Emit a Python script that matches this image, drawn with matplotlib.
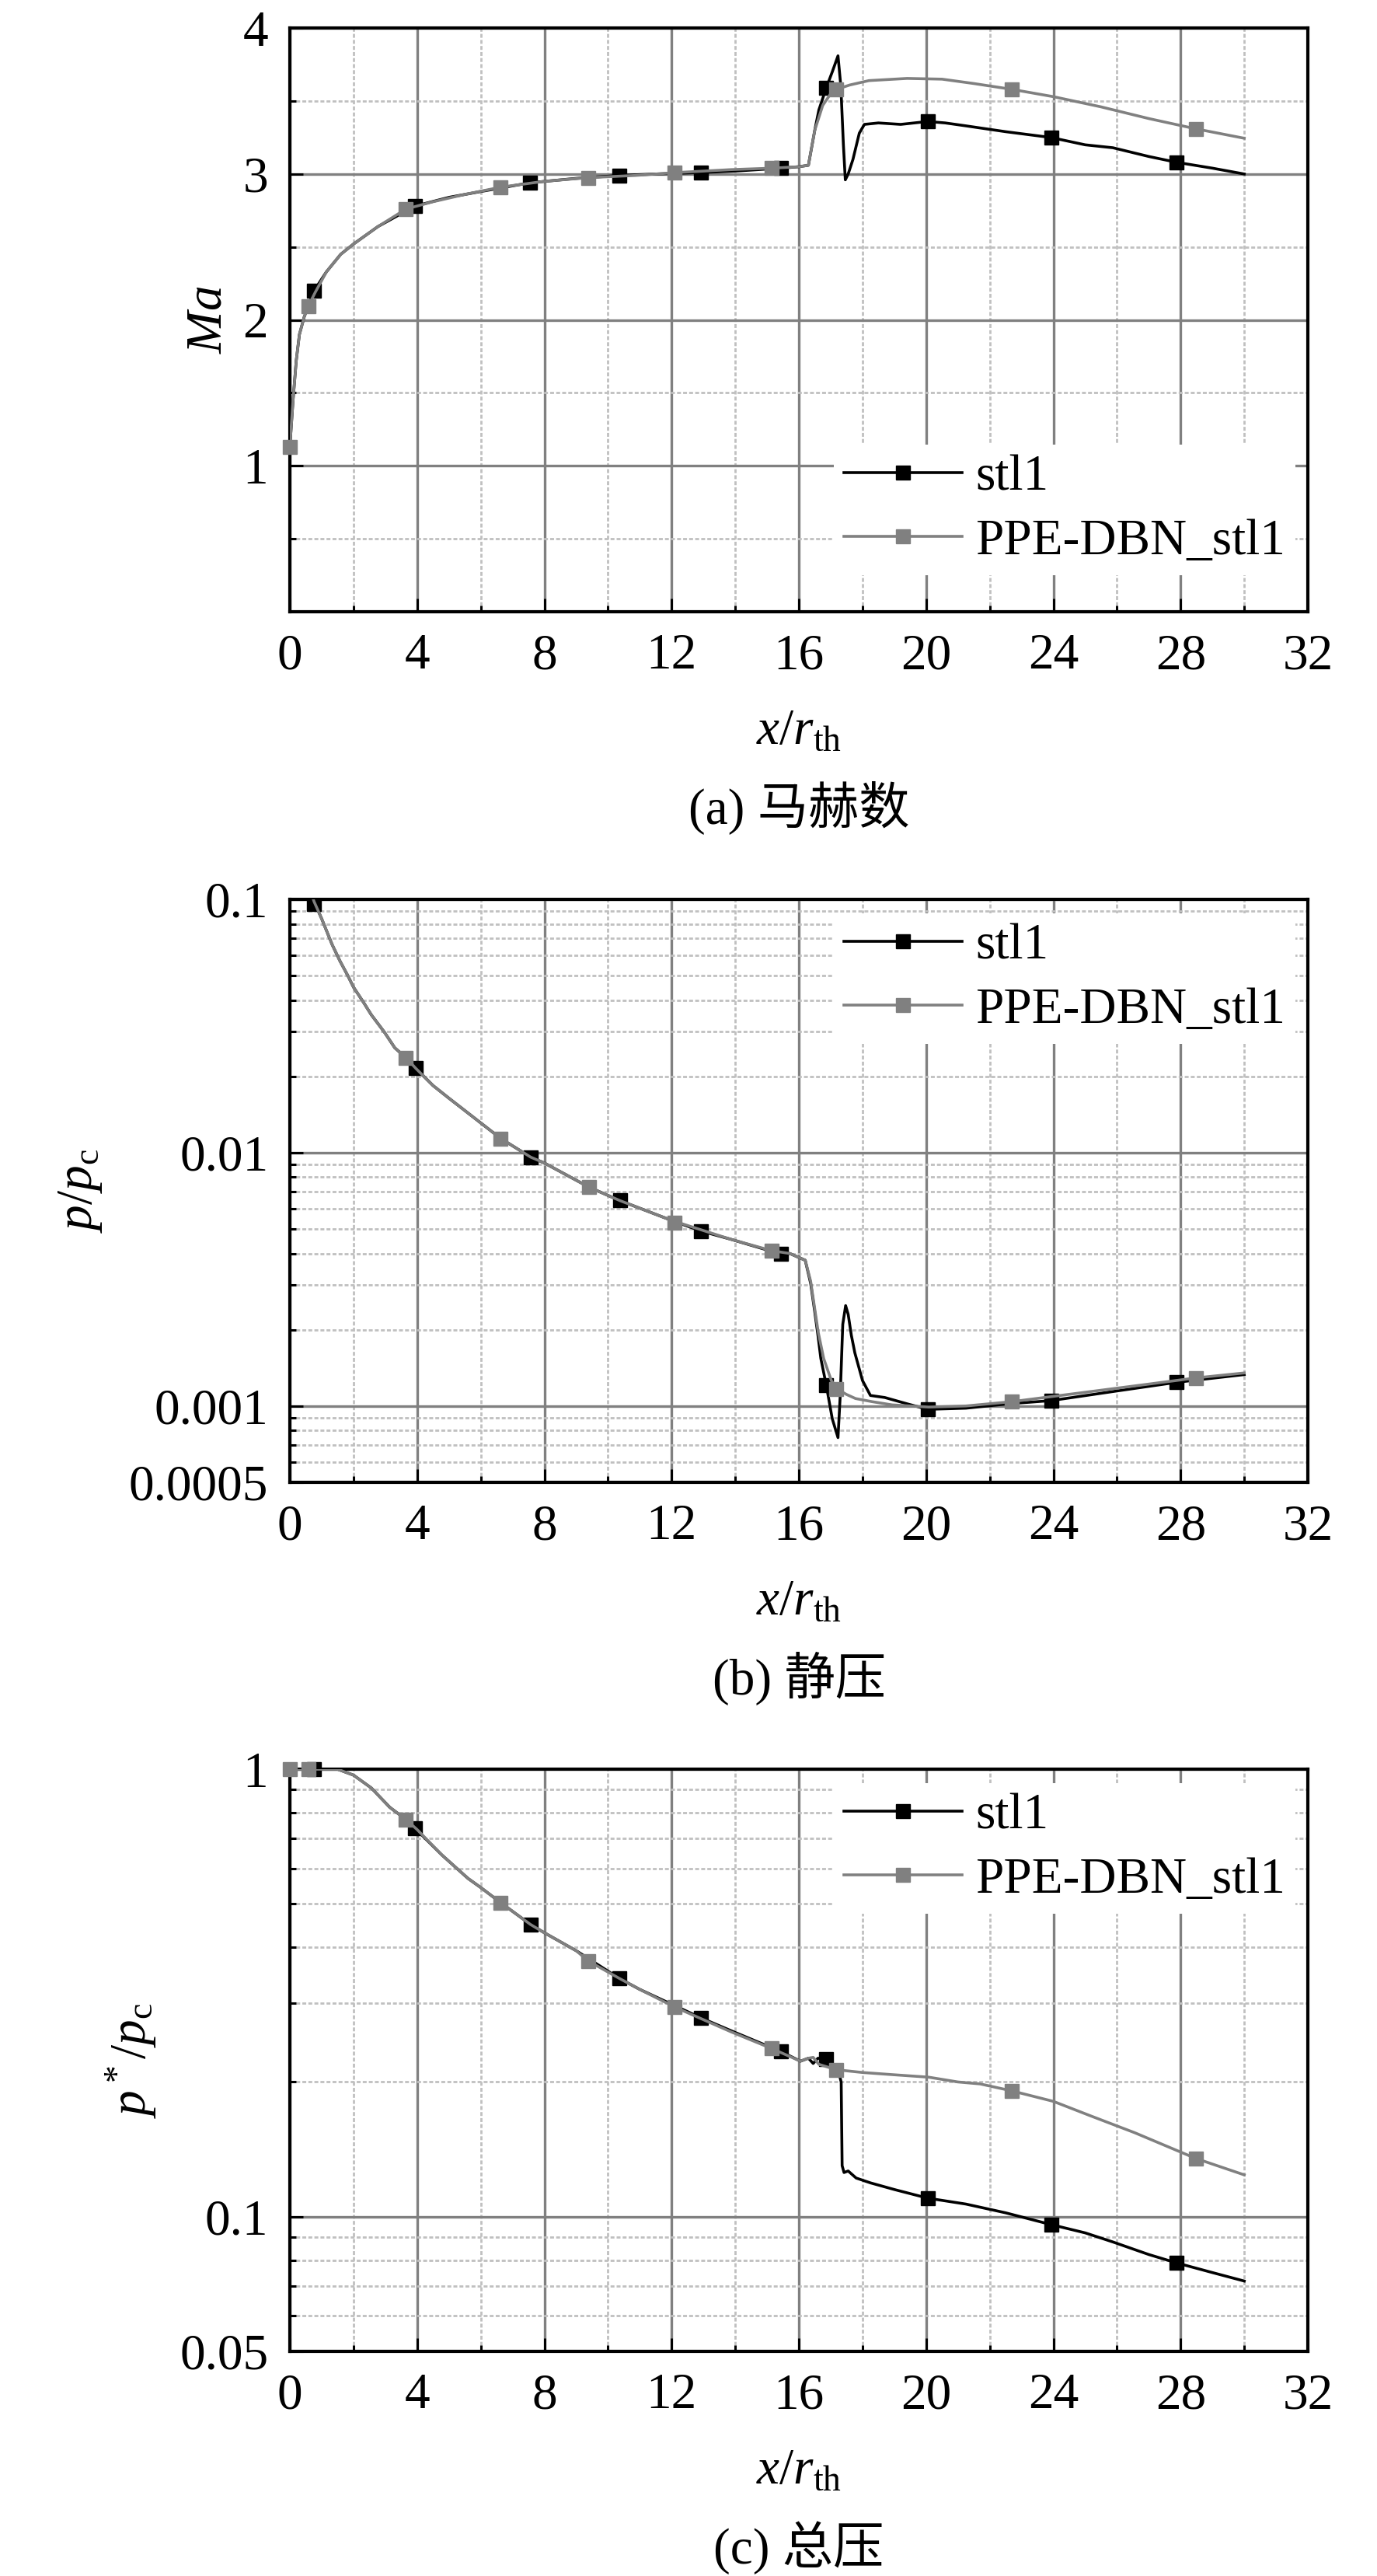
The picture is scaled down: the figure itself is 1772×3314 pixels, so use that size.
import matplotlib
matplotlib.use("Agg")
import matplotlib.pyplot as plt
from matplotlib.lines import Line2D
from matplotlib.ticker import FixedLocator, FixedFormatter, NullFormatter

plt.rcParams['font.family'] = ['Liberation Serif', 'Noto Sans CJK SC']
plt.rcParams['mathtext.fontset'] = 'custom'
plt.rcParams['mathtext.rm'] = 'Liberation Serif'
plt.rcParams['mathtext.it'] = 'Liberation Serif:italic'

FS = 47
BLACK = '#000000'
GRAY = '#808080'
labels = ['stl1', 'PPE-DBN_stl1']

# ---- (a) Mach number ----
ma_ppe_x = [0, 0.1, 0.2, 0.3, 0.45, 0.58, 0.8, 1.15, 1.6, 2.0, 2.77, 3.65, 4.5, 5.5, 6.63,
            8.0, 9.38, 10.85, 12.15, 13.86, 15.15, 16.0, 16.3, 16.5, 16.75, 17.0, 17.18,
            17.6, 18.2, 19.4, 20.5, 21.5, 22.7, 24.0, 25.5, 27.0, 28.47, 30.0]
ma_ppe_y = [1.13, 1.45, 1.72, 1.9, 2.02, 2.095, 2.19, 2.33, 2.45, 2.52, 2.64, 2.76, 2.81, 2.86, 2.91,
            2.95, 2.975, 2.99, 3.01, 3.03, 3.04, 3.05, 3.06, 3.3, 3.47, 3.55, 3.58,
            3.61, 3.64, 3.655, 3.65, 3.62, 3.58, 3.53, 3.46, 3.38, 3.31, 3.245]
ma_stl_x = [0, 0.1, 0.2, 0.3, 0.45, 0.76, 1.15, 1.6, 2.0, 2.77, 3.93, 5.0, 6.0, 7.55, 9.0, 10.35,
            11.5, 12.93, 14.0, 15.43, 16.0, 16.3, 16.5, 16.63, 16.86, 17.05, 17.23, 17.32, 17.4,
            17.46, 17.55, 17.7, 17.9, 18.06, 18.5, 19.2, 20.05, 20.6, 21.25, 22.5, 23.93, 25.0,
            25.87, 27.0, 27.88, 29.0, 30.0]
ma_stl_y = [1.13, 1.45, 1.72, 1.9, 2.02, 2.2, 2.33, 2.45, 2.52, 2.64, 2.78, 2.84, 2.88, 2.94, 2.97, 2.99,
            3.0, 3.01, 3.02, 3.04, 3.05, 3.06, 3.3, 3.44, 3.59, 3.7, 3.81, 3.6, 3.2,
            2.96, 3.0, 3.1, 3.28, 3.34, 3.35, 3.34, 3.36, 3.35, 3.33, 3.29, 3.25, 3.2,
            3.18, 3.12, 3.08, 3.04, 3.0]
ma_stl_mx = [0.76, 3.93, 7.55, 10.35, 12.93, 15.43, 16.86, 20.05, 23.93, 27.88]
ma_stl_my = [2.2, 2.78, 2.94, 2.99, 3.01, 3.04, 3.59, 3.36, 3.25, 3.08]
ma_ppe_mx = [0, 0.58, 3.65, 6.63, 9.38, 12.1, 15.15, 17.18, 22.7, 28.47]
ma_ppe_my = [1.13, 2.095, 2.76, 2.91, 2.975, 3.01, 3.04, 3.58, 3.58, 3.31]

# ---- (b) static pressure ----
p_ppe_x = [0, 0.3, 0.58, 0.76, 1.0, 1.33, 1.58, 1.82, 2.0, 2.32, 2.56, 2.97, 3.3, 3.65, 3.96,
           4.5, 5.0, 6.0, 6.63, 7.57, 8.0, 9.41, 10.37, 12.0, 13.86, 15.15, 15.71, 16.2,
           16.37, 16.49, 16.61, 16.78, 17.02, 17.18, 17.5, 17.78, 18.3, 18.93, 20.08, 21.25,
           22.7, 24.7, 27.0, 28.47, 30.0]
p_ppe_y = [0.47, 0.17, 0.115, 0.098, 0.0838, 0.0662, 0.0569, 0.050, 0.045, 0.0391, 0.035,
           0.0299, 0.0259, 0.0237, 0.0215, 0.0184, 0.0164, 0.0131, 0.01137, 0.0096, 0.0091,
           0.0073, 0.00647, 0.0054, 0.00455, 0.0041, 0.004, 0.00376, 0.00311, 0.00246,
           0.00195, 0.00154, 0.00126, 0.00117, 0.00111, 0.00107, 0.00104, 0.00101, 0.00099,
           0.001, 0.00104, 0.00112, 0.00122, 0.00129, 0.00135]
p_stl_x = [0, 0.3, 0.58, 0.76, 1.0, 1.33, 1.58, 1.82, 2.0, 2.32, 2.56, 2.97, 3.3, 3.65, 3.96,
           4.5, 5.0, 6.0, 6.63, 7.57, 8.0, 9.41, 10.37, 12.0, 12.93, 13.86, 15.43, 15.71, 16.2,
           16.37, 16.49, 16.6, 16.69, 16.86, 17.05, 17.23, 17.3, 17.38, 17.47, 17.55, 17.65,
           17.76, 18.0, 18.25, 18.7, 19.4, 20.05, 21.25, 22.6, 23.93, 25.87, 27.88, 30.0]
p_stl_y = [0.47, 0.17, 0.115, 0.098, 0.0838, 0.0662, 0.0569, 0.050, 0.045, 0.0391, 0.035,
           0.0299, 0.0259, 0.0237, 0.0215, 0.0184, 0.0164, 0.0131, 0.01137, 0.0096, 0.0091,
           0.0073, 0.00647, 0.0054, 0.0049, 0.00455, 0.00398, 0.004, 0.00376, 0.00305,
           0.0024, 0.0019, 0.00154, 0.00121, 0.00089, 0.00075, 0.0011, 0.0021, 0.00249, 0.0023,
           0.0019, 0.00162, 0.00126, 0.0011, 0.00108, 0.00102, 0.00097, 0.00098, 0.00102,
           0.00105, 0.00114, 0.00124, 0.00133]
p_stl_mx = [0.76, 3.96, 7.57, 10.37, 12.93, 15.43, 16.86, 20.05, 23.93, 27.88]
p_stl_my = [0.096, 0.0215, 0.0096, 0.00647, 0.0049, 0.00398, 0.00121, 0.00097, 0.00105, 0.00124]
p_ppe_mx = [0, 0.58, 3.65, 6.63, 9.41, 12.1, 15.15, 17.18, 22.7, 28.47]
p_ppe_my = [0.47, 0.115, 0.0237, 0.01137, 0.0073, 0.0053, 0.0041, 0.00117, 0.00104, 0.00129]

# ---- (c) total pressure ----
pt_ppe_x = [0, 0.58, 1.5, 2.0, 2.56, 3.14, 3.65, 4.0, 4.78, 5.6, 6.0, 6.63, 7.56, 8.0, 9.0, 9.38,
            10.35, 11.0, 12.1, 13.86, 15.15, 16.05, 16.3, 16.45, 16.63, 17.18, 18.0, 18.93,
            20.08, 21.0, 21.7, 22.7, 24.0, 25.17, 26.56, 28.47, 30.0]
pt_ppe_y = [1.0, 1.0, 1.0, 0.970, 0.908, 0.822, 0.772, 0.733, 0.643, 0.570, 0.544, 0.503, 0.45,
            0.431, 0.393, 0.3727, 0.341, 0.322, 0.294, 0.259, 0.2375, 0.2226, 0.226, 0.227,
            0.219, 0.213, 0.21, 0.2077, 0.205, 0.2, 0.198, 0.191, 0.181, 0.168, 0.154, 0.135,
            0.124]
pt_stl_x = [0, 0.76, 1.5, 2.0, 2.56, 3.14, 3.65, 3.94, 4.78, 5.6, 6.0, 6.63, 7.56, 8.0, 9.0,
            10.35, 11.0, 12.93, 14.0, 15.43, 16.05, 16.3, 16.45, 16.6, 16.86, 17.1, 17.23,
            17.33, 17.36, 17.42, 17.55, 17.8, 18.25, 19.0, 20.05, 21.25, 22.5, 23.93, 25.0,
            25.87, 27.0, 27.88, 29.0, 30.0]
pt_stl_y = [1.0, 1.0, 1.0, 0.970, 0.908, 0.822, 0.772, 0.737, 0.643, 0.570, 0.544, 0.503, 0.45,
            0.431, 0.393, 0.341, 0.322, 0.278, 0.258, 0.234, 0.2226, 0.226, 0.22, 0.226, 0.225,
            0.218, 0.213, 0.2, 0.13, 0.1255, 0.1265, 0.122, 0.119, 0.115, 0.110, 0.1067, 0.102,
            0.096, 0.092, 0.0878, 0.0823, 0.0788, 0.075, 0.0718]
pt_stl_mx = [0.76, 3.94, 7.56, 10.35, 12.93, 15.43, 16.86, 20.05, 23.93, 27.88]
pt_stl_my = [1.0, 0.737, 0.45, 0.341, 0.278, 0.234, 0.225, 0.110, 0.096, 0.0788]
pt_ppe_mx = [0, 0.58, 3.65, 6.63, 9.38, 12.1, 15.15, 17.18, 22.7, 28.47]
pt_ppe_my = [1.0, 1.0, 0.772, 0.503, 0.3727, 0.294, 0.2375, 0.213, 0.191, 0.135]

x_major = [0, 4, 8, 12, 16, 20, 24, 28, 32]
x_minor = [2, 6, 10, 14, 18, 22, 26, 30]


def draw_panel(ax, stl, ppe, stl_m, ppe_m, clip=True):
    ax.plot(stl[0], stl[1], color=BLACK, lw=2.6, zorder=3)
    ax.plot(stl_m[0], stl_m[1], ls='none', marker='s', ms=12.5, color=BLACK, zorder=4,
            clip_on=clip)
    ax.plot(ppe[0], ppe[1], color=GRAY, lw=2.6, zorder=5)
    ax.plot(ppe_m[0], ppe_m[1], ls='none', marker='s', ms=12.5, color=GRAY, zorder=6,
            clip_on=clip)

    ax.set_xlim(0, 32)
    ax.xaxis.set_major_locator(FixedLocator(x_major))
    ax.xaxis.set_minor_locator(FixedLocator(x_minor))
    ax.set_axisbelow(True)
    ax.grid(which='major', color=GRAY, lw=2.4)
    ax.grid(which='minor', color='#c0c0c0', lw=2.0, linestyle=(0, (1.8, 1.0)))
    ax.tick_params(which='both', direction='in', top=False, right=False,
                   width=2.2, color='k', labelsize=FS, pad=20)
    ax.tick_params(which='major', length=12)
    ax.tick_params(which='minor', length=6)
    for sp in ax.spines.values():
        sp.set_linewidth(3)


def add_legend(ax, loc, anchor):
    handles = [Line2D([], [], color=BLACK, lw=2.6, marker='s', ms=12.5),
               Line2D([], [], color=GRAY, lw=2.6, marker='s', ms=12.5)]
    leg = ax.legend(handles, labels, loc=loc, bbox_to_anchor=anchor, borderaxespad=0,
                    fontsize=FS, handlelength=2.34, handletextpad=0.26, borderpad=0.2,
                    labelspacing=0.34, fancybox=False, framealpha=1, facecolor='white')
    leg.get_frame().set_linewidth(0)
    leg.set_zorder(10)


fig = plt.figure(figsize=(17.72, 33.14), dpi=100)
L, W = 0.2105, 0.7393
xc = L + W / 2

# (a)
ax1 = fig.add_axes([L, 0.7625, W, 0.2266])
draw_panel(ax1, (ma_stl_x, ma_stl_y), (ma_ppe_x, ma_ppe_y),
           (ma_stl_mx, ma_stl_my), (ma_ppe_mx, ma_ppe_my), clip=False)
ax1.set_ylim(0, 4)
ax1.yaxis.set_major_locator(FixedLocator([1, 2, 3, 4]))
ax1.yaxis.set_minor_locator(FixedLocator([0.5, 1.5, 2.5, 3.5]))
add_legend(ax1, 'lower right', (0.988, 0.063))
ax1.text(-0.0794, 0.5, '$Ma$', transform=ax1.transAxes, rotation=90,
         ha='center', va='center', fontsize=FS)
fig.text(xc, 0.7112, '$x/r_\\mathrm{th}$', ha='center', va='baseline', fontsize=FS)
fig.text(xc, 0.6801, '(a) 马赫数', ha='center', va='baseline', fontsize=FS)

# (b)
ax2 = fig.add_axes([L, 0.4246, W, 0.2263])
draw_panel(ax2, (p_stl_x, p_stl_y), (p_ppe_x, p_ppe_y),
           (p_stl_mx, p_stl_my), (p_ppe_mx, p_ppe_my))
ax2.set_yscale('log')
ax2.set_ylim(0.0005, 0.1)
p_ticks = [0.0005, 0.001, 0.01, 0.1]
p_minor = [0.0006, 0.0007, 0.0008, 0.0009, 0.002, 0.003, 0.004, 0.005, 0.006, 0.007,
           0.008, 0.009, 0.02, 0.03, 0.04, 0.05, 0.06, 0.07, 0.08, 0.09]
ax2.yaxis.set_major_locator(FixedLocator(p_ticks))
ax2.yaxis.set_major_formatter(FixedFormatter(['0.0005', '0.001', '0.01', '0.1']))
ax2.yaxis.set_minor_locator(FixedLocator(p_minor))
ax2.yaxis.set_minor_formatter(NullFormatter())
add_legend(ax2, 'upper right', (0.988, 0.976))
ax2.text(-0.206, 0.5, '$p/p_\\mathrm{c}$', transform=ax2.transAxes, rotation=90,
         ha='center', va='center', fontsize=FS)
fig.text(xc, 0.3733, '$x/r_\\mathrm{th}$', ha='center', va='baseline', fontsize=FS)
fig.text(xc, 0.3422, '(b) 静压', ha='center', va='baseline', fontsize=FS)

# (c)
ax3 = fig.add_axes([L, 0.0872, W, 0.226])
draw_panel(ax3, (pt_stl_x, pt_stl_y), (pt_ppe_x, pt_ppe_y),
           (pt_stl_mx, pt_stl_my), (pt_ppe_mx, pt_ppe_my), clip=False)
ax3.set_yscale('log')
ax3.set_ylim(0.05, 1)
pt_ticks = [0.05, 0.1, 1]
pt_minor = [0.06, 0.07, 0.08, 0.09, 0.2, 0.3, 0.4, 0.5, 0.6, 0.7, 0.8, 0.9]
ax3.yaxis.set_major_locator(FixedLocator(pt_ticks))
ax3.yaxis.set_major_formatter(FixedFormatter(['0.05', '0.1', '1']))
ax3.yaxis.set_minor_locator(FixedLocator(pt_minor))
ax3.yaxis.set_minor_formatter(NullFormatter())
add_legend(ax3, 'upper right', (0.988, 0.976))
ax3.text(-0.156, 0.5, '$p^*/p_\\mathrm{c}$', transform=ax3.transAxes, rotation=90,
         ha='center', va='center', fontsize=FS)
fig.text(xc, 0.0359, '$x/r_\\mathrm{th}$', ha='center', va='baseline', fontsize=FS)
fig.text(xc, 0.0048, '(c) 总压', ha='center', va='baseline', fontsize=FS)

fig.savefig('out.png', dpi=100)
